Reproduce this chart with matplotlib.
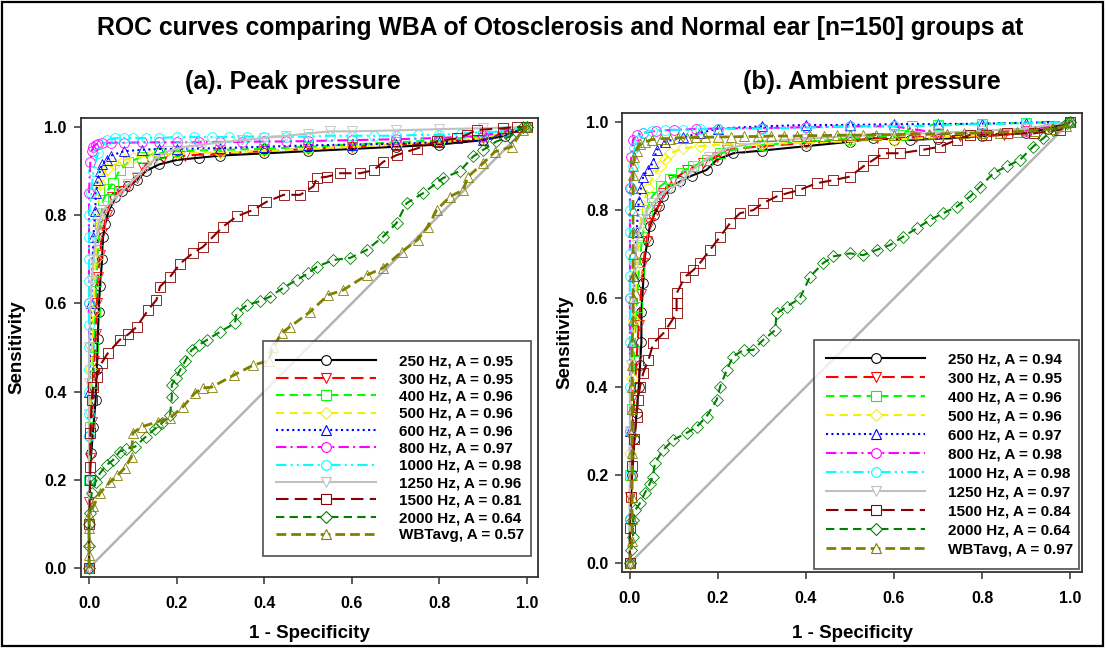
import numpy as np
import matplotlib
matplotlib.use('Agg')
import matplotlib.pyplot as plt
from matplotlib.lines import Line2D
from matplotlib.patches import Rectangle

plt.rcParams['font.family'] = ['Liberation Sans', 'DejaVu Sans']
plt.rcParams['font.weight'] = 'bold'

#################################################################################
# data : (1 - specificity, sensitivity)
#################################################################################
labels = ['250 Hz', '300 Hz', '400 Hz', '500 Hz', '600 Hz', '800 Hz',
          '1000 Hz', '1250 Hz', '1500 Hz', '2000 Hz', 'WBTavg']
auc_peak    = [0.95, 0.95, 0.96, 0.96, 0.96, 0.97, 0.98, 0.96, 0.81, 0.64, 0.57]
auc_ambient = [0.94, 0.95, 0.96, 0.96, 0.97, 0.98, 0.98, 0.97, 0.84, 0.64, 0.97]

# (a) peak pressure
peak_250 = [(0, 0), (0, 0.1), (0, 0.2), (0.005, 0.26), (0.01, 0.32), (0.015, 0.38), (0.018, 0.45),
            (0.02, 0.52), (0.022, 0.58), (0.025, 0.64), (0.03, 0.7), (0.032, 0.75), (0.037, 0.78),
            (0.045, 0.81), (0.06, 0.84), (0.075, 0.855), (0.09, 0.865), (0.11, 0.88), (0.13, 0.9),
            (0.16, 0.915), (0.2, 0.925), (0.25, 0.93), (0.3, 0.935), (0.4, 0.94), (0.5, 0.945),
            (0.6, 0.95), (0.7, 0.955), (0.8, 0.96), (0.9, 0.97), (0.95, 0.98), (1.0, 1.0)]
peak_300 = [(0, 0), (0, 0.15), (0.003, 0.25), (0.006, 0.33), (0.01, 0.4), (0.012, 0.47), (0.015, 0.53),
            (0.018, 0.6), (0.02, 0.66), (0.025, 0.71), (0.03, 0.76), (0.04, 0.8), (0.052, 0.842),
            (0.07, 0.855), (0.09, 0.865), (0.11, 0.885), (0.124, 0.907), (0.139, 0.925), (0.17, 0.93),
            (0.22, 0.935), (0.3, 0.94), (0.4, 0.945), (0.5, 0.95), (0.6, 0.955), (0.7, 0.96),
            (0.8, 0.965), (0.9, 0.975), (0.95, 0.985), (1.0, 1.0)]
peak_400 = [(0, 0), (0, 0.2), (0.003, 0.32), (0.006, 0.42), (0.01, 0.5), (0.013, 0.58), (0.017, 0.65),
            (0.02, 0.72), (0.025, 0.78), (0.032, 0.834), (0.045, 0.86), (0.055, 0.873), (0.07, 0.902),
            (0.09, 0.92), (0.12, 0.932), (0.16, 0.94), (0.2, 0.945), (0.3, 0.948), (0.4, 0.95),
            (0.5, 0.955), (0.6, 0.96), (0.7, 0.965), (0.8, 0.97), (0.9, 0.98), (1.0, 1.0)]
peak_500 = [(0, 0), (0, 0.3), (0.005, 0.45), (0.01, 0.58), (0.015, 0.7), (0.02, 0.8), (0.025, 0.87),
            (0.03, 0.89), (0.04, 0.905), (0.06, 0.915), (0.08, 0.925), (0.1, 0.93), (0.14, 0.935),
            (0.2, 0.94), (0.3, 0.942), (0.4, 0.945), (0.5, 0.95), (0.6, 0.955), (0.7, 0.96),
            (0.8, 0.965), (0.9, 0.975), (1.0, 1.0)]
peak_600 = [(0, 0), (0, 0.4), (0.005, 0.6), (0.01, 0.75), (0.014, 0.81), (0.016, 0.85), (0.02, 0.88),
            (0.025, 0.9), (0.03, 0.915), (0.04, 0.925), (0.05, 0.935), (0.08, 0.945), (0.12, 0.948),
            (0.16, 0.95), (0.2, 0.95), (0.3, 0.952), (0.4, 0.955), (0.5, 0.958), (0.6, 0.96),
            (0.7, 0.962), (0.8, 0.965), (0.9, 0.97), (1.0, 1.0)]
peak_800 = [(0, 0), (0, 0.3), (0, 0.6), (0, 0.85), (0.003, 0.92), (0.006, 0.945), (0.01, 0.955),
            (0.015, 0.96), (0.02, 0.962), (0.03, 0.964), (0.05, 0.964), (0.08, 0.964), (0.12, 0.965),
            (0.16, 0.965), (0.2, 0.965), (0.25, 0.965), (0.3, 0.966), (0.35, 0.966), (0.4, 0.967),
            (0.45, 0.967), (0.5, 0.968), (0.6, 0.97), (0.7, 0.972), (0.8, 0.975), (0.9, 0.98), (1.0, 1.0)]
peak_1000 = [(0, 0), (0, 0.1), (0, 0.2), (0, 0.3), (0, 0.35), (0, 0.4), (0, 0.45), (0, 0.5), (0, 0.55),
             (0, 0.6), (0, 0.65), (0, 0.7), (0, 0.75), (0, 0.8), (0.005, 0.85), (0.01, 0.9), (0.02, 0.94),
             (0.04, 0.97), (0.06, 0.975), (0.08, 0.975), (0.1, 0.975), (0.13, 0.975), (0.16, 0.975),
             (0.2, 0.977), (0.24, 0.977), (0.28, 0.977), (0.32, 0.977), (0.36, 0.978), (0.4, 0.978),
             (0.45, 0.978), (0.5, 0.978), (0.55, 0.98), (0.6, 0.98), (0.65, 0.98), (0.7, 0.98),
             (0.75, 0.982), (0.8, 0.982), (0.85, 0.985), (0.9, 0.988), (0.95, 0.99), (1.0, 1.0)]
peak_1250 = [(0, 0), (0, 0.2), (0, 0.35), (0, 0.42), (0, 0.5), (0.003, 0.58), (0.006, 0.65), (0.01, 0.7),
             (0.015, 0.74), (0.02, 0.77), (0.025, 0.79), (0.029, 0.805), (0.04, 0.82), (0.055, 0.835),
             (0.07, 0.85), (0.09, 0.87), (0.109, 0.887), (0.13, 0.91), (0.154, 0.93), (0.18, 0.945),
             (0.22, 0.955), (0.26, 0.96), (0.3, 0.965), (0.35, 0.97), (0.4, 0.975), (0.45, 0.98),
             (0.5, 0.985), (0.55, 0.99), (0.6, 0.99), (0.7, 0.992), (0.8, 0.995), (0.9, 0.997), (1.0, 1.0)]
peak_1500 = [(0, 0), (0, 0.1), (0.003, 0.2), (0.003, 0.23), (0.003, 0.306), (0.006, 0.38), (0.01, 0.41),
             (0.018, 0.434), (0.029, 0.465), (0.043, 0.487), (0.07, 0.517), (0.09, 0.53), (0.109, 0.547),
             (0.135, 0.585), (0.154, 0.608), (0.162, 0.638), (0.185, 0.66), (0.208, 0.69), (0.237, 0.714),
             (0.26, 0.728), (0.283, 0.751), (0.306, 0.774), (0.337, 0.797), (0.375, 0.812), (0.405, 0.83),
             (0.444, 0.846), (0.482, 0.846), (0.512, 0.865), (0.52, 0.884), (0.543, 0.887), (0.573, 0.895),
             (0.619, 0.895), (0.65, 0.902), (0.672, 0.921), (0.702, 0.936), (0.748, 0.951), (0.794, 0.967),
             (0.84, 0.974), (0.862, 0.982), (0.885, 0.993), (0.946, 0.997), (0.977, 1.0), (1.0, 1.0)]
peak_2000 = [(0, 0), (0, 0.05), (0, 0.1), (0.003, 0.125), (0.006, 0.17), (0.015, 0.195), (0.025, 0.215),
             (0.04, 0.233), (0.055, 0.245), (0.07, 0.264), (0.085, 0.27), (0.105, 0.275), (0.13, 0.298),
             (0.15, 0.315), (0.166, 0.328), (0.185, 0.347), (0.189, 0.388), (0.189, 0.415), (0.198, 0.43),
             (0.208, 0.449), (0.22, 0.47), (0.234, 0.494), (0.25, 0.505), (0.269, 0.517), (0.3, 0.536),
             (0.333, 0.555), (0.337, 0.578), (0.36, 0.596), (0.39, 0.605), (0.413, 0.615), (0.443, 0.635),
             (0.474, 0.653), (0.5, 0.668), (0.52, 0.683), (0.557, 0.698), (0.596, 0.703), (0.634, 0.721),
             (0.671, 0.751), (0.702, 0.782), (0.725, 0.827), (0.763, 0.85), (0.794, 0.873), (0.808, 0.884),
             (0.847, 0.9), (0.877, 0.933), (0.9, 0.948), (0.93, 0.967), (0.961, 0.978), (0.99, 1.0), (1.0, 1.0)]
peak_wbt = [(0, 0), (0, 0.03), (0, 0.06), (0, 0.09), (0, 0.12), (0.01, 0.14), (0.025, 0.17), (0.048, 0.195),
            (0.065, 0.21), (0.082, 0.227), (0.097, 0.252), (0.1, 0.306), (0.12, 0.32), (0.158, 0.332),
            (0.185, 0.34), (0.215, 0.366), (0.242, 0.397), (0.26, 0.408), (0.28, 0.41), (0.33, 0.437),
            (0.375, 0.46), (0.41, 0.47), (0.42, 0.5), (0.44, 0.533), (0.459, 0.547), (0.505, 0.581),
            (0.546, 0.619), (0.58, 0.63), (0.634, 0.664), (0.671, 0.68), (0.714, 0.717), (0.75, 0.744),
            (0.774, 0.774), (0.794, 0.812), (0.824, 0.842), (0.854, 0.857), (0.865, 0.887), (0.9, 0.918),
            (0.927, 0.944), (0.965, 0.955), (0.99, 0.993), (1.0, 1.0)]

# (b) ambient pressure
amb_250 = [(0, 0), (0, 0.1), (0.005, 0.2), (0.01, 0.28), (0.015, 0.34), (0.02, 0.4), (0.023, 0.45),
           (0.026, 0.5), (0.026, 0.57), (0.03, 0.634), (0.034, 0.695), (0.04, 0.73), (0.045, 0.763),
           (0.055, 0.79), (0.065, 0.81), (0.076, 0.831), (0.09, 0.85), (0.114, 0.865), (0.14, 0.878),
           (0.174, 0.891), (0.197, 0.914), (0.235, 0.929), (0.3, 0.935), (0.4, 0.945), (0.5, 0.955),
           (0.553, 0.963), (0.6, 0.96), (0.636, 0.959), (0.7, 0.962), (0.8, 0.968), (0.9, 0.975),
           (0.95, 0.985), (1.0, 1.0)]
amb_300 = [(0, 0), (0, 0.15), (0.005, 0.28), (0.01, 0.38), (0.015, 0.46), (0.02, 0.54), (0.025, 0.61),
           (0.03, 0.68), (0.038, 0.73), (0.045, 0.77), (0.061, 0.8), (0.076, 0.838), (0.098, 0.868),
           (0.129, 0.891), (0.167, 0.906), (0.197, 0.921), (0.22, 0.937), (0.3, 0.945), (0.4, 0.952),
           (0.5, 0.958), (0.561, 0.963), (0.65, 0.965), (0.75, 0.967), (0.85, 0.97), (0.9, 0.98),
           (0.95, 0.99), (1.0, 1.0)]
amb_400 = [(0, 0), (0, 0.2), (0.005, 0.35), (0.01, 0.48), (0.015, 0.58), (0.02, 0.66), (0.028, 0.74),
           (0.038, 0.8), (0.05, 0.83), (0.07, 0.855), (0.09, 0.87), (0.115, 0.885), (0.144, 0.899),
           (0.174, 0.914), (0.205, 0.929), (0.25, 0.94), (0.3, 0.948), (0.4, 0.955), (0.5, 0.962),
           (0.62, 0.97), (0.64, 0.99), (0.7, 0.994), (0.8, 0.996), (0.9, 0.998), (1.0, 1.0)]
amb_500 = [(0, 0), (0, 0.25), (0.005, 0.42), (0.01, 0.55), (0.015, 0.66), (0.02, 0.75), (0.03, 0.81),
           (0.04, 0.85), (0.055, 0.88), (0.068, 0.899), (0.08, 0.915), (0.091, 0.929), (0.12, 0.94),
           (0.16, 0.945), (0.2, 0.948), (0.3, 0.95), (0.4, 0.953), (0.5, 0.956), (0.6, 0.96),
           (0.7, 0.965), (0.8, 0.97), (0.9, 0.98), (1.0, 1.0)]
amb_600 = [(0, 0), (0, 0.3), (0.005, 0.5), (0.01, 0.65), (0.015, 0.75), (0.02, 0.82), (0.025, 0.85),
           (0.03, 0.876), (0.04, 0.89), (0.052, 0.907), (0.061, 0.936), (0.08, 0.955), (0.12, 0.965),
           (0.16, 0.975), (0.2, 0.985), (0.3, 0.99), (0.4, 0.993), (0.5, 0.993), (0.6, 0.995),
           (0.7, 0.995), (0.8, 0.996), (0.9, 0.998), (1.0, 1.0)]
amb_800 = [(0, 0), (0, 0.3), (0, 0.6), (0, 0.85), (0.003, 0.92), (0.007, 0.96), (0.015, 0.97),
           (0.03, 0.975), (0.06, 0.98), (0.1, 0.982), (0.15, 0.984), (0.2, 0.985), (0.3, 0.986),
           (0.4, 0.988), (0.5, 0.99), (0.6, 0.99), (0.7, 0.975), (0.8, 0.975), (0.9, 0.98), (1.0, 1.0)]
amb_1000 = [(0, 0), (0, 0.1), (0, 0.2), (0, 0.3), (0, 0.4), (0, 0.5), (0, 0.6), (0, 0.65), (0, 0.7),
            (0, 0.75), (0, 0.8), (0.003, 0.85), (0.006, 0.9), (0.01, 0.94), (0.02, 0.96), (0.03, 0.975),
            (0.05, 0.98), (0.08, 0.982), (0.12, 0.982), (0.16, 0.983), (0.2, 0.985), (0.3, 0.985),
            (0.4, 0.987), (0.5, 0.99), (0.6, 0.99), (0.7, 0.992), (0.8, 0.995), (0.9, 0.997), (1.0, 1.0)]
amb_1250 = [(0, 0), (0, 0.3), (0.003, 0.45), (0.006, 0.58), (0.01, 0.67), (0.015, 0.72), (0.02, 0.75),
            (0.03, 0.78), (0.04, 0.8), (0.052, 0.816), (0.07, 0.835), (0.09, 0.85), (0.114, 0.861),
            (0.13, 0.88), (0.152, 0.899), (0.18, 0.92), (0.22, 0.94), (0.3, 0.955), (0.4, 0.962),
            (0.5, 0.968), (0.6, 0.972), (0.7, 0.975), (0.8, 0.98), (0.9, 0.985), (1.0, 1.0)]
amb_1500 = [(0, 0), (0, 0.08), (0.003, 0.15), (0.005, 0.22), (0.01, 0.28), (0.015, 0.33), (0.018, 0.37),
            (0.023, 0.4), (0.03, 0.43), (0.042, 0.46), (0.053, 0.498), (0.076, 0.521), (0.091, 0.543),
            (0.106, 0.566), (0.106, 0.589), (0.106, 0.611), (0.125, 0.649), (0.144, 0.664), (0.159, 0.68),
            (0.182, 0.71), (0.205, 0.74), (0.227, 0.77), (0.25, 0.793), (0.28, 0.8), (0.303, 0.816),
            (0.333, 0.831), (0.356, 0.838), (0.386, 0.846), (0.424, 0.861), (0.462, 0.868), (0.5, 0.876),
            (0.53, 0.899), (0.553, 0.914), (0.576, 0.929), (0.614, 0.929), (0.667, 0.937), (0.705, 0.944),
            (0.742, 0.959), (0.773, 0.971), (0.81, 0.971), (0.856, 0.974), (0.917, 0.974), (0.977, 0.982),
            (1.0, 1.0)]
amb_2000 = [(0, 0), (0.003, 0.03), (0.007, 0.06), (0.007, 0.098), (0.012, 0.12), (0.023, 0.136),
            (0.034, 0.159), (0.045, 0.18), (0.052, 0.196), (0.057, 0.227), (0.075, 0.256), (0.098, 0.279),
            (0.129, 0.295), (0.152, 0.309), (0.174, 0.332), (0.197, 0.37), (0.205, 0.4), (0.22, 0.438),
            (0.234, 0.468), (0.258, 0.483), (0.28, 0.483), (0.303, 0.506), (0.33, 0.528), (0.333, 0.566),
            (0.356, 0.581), (0.386, 0.6), (0.409, 0.649), (0.439, 0.68), (0.462, 0.695), (0.5, 0.702),
            (0.53, 0.698), (0.561, 0.71), (0.591, 0.721), (0.621, 0.74), (0.652, 0.759), (0.682, 0.778),
            (0.712, 0.793), (0.742, 0.808), (0.773, 0.831), (0.795, 0.853), (0.826, 0.884), (0.856, 0.899),
            (0.886, 0.914), (0.916, 0.944), (0.939, 0.963), (0.962, 0.982), (0.992, 0.997), (1.0, 1.0)]
amb_wbt = [(0, 0), (0.005, 0.05), (0.005, 0.1), (0.005, 0.15), (0.005, 0.2), (0.005, 0.25), (0.005, 0.3),
           (0.005, 0.35), (0.005, 0.4), (0.005, 0.45), (0.005, 0.5), (0.007, 0.55), (0.007, 0.6),
           (0.007, 0.65), (0.007, 0.7), (0.007, 0.75), (0.007, 0.8), (0.007, 0.85), (0.007, 0.88),
           (0.007, 0.9), (0.01, 0.92), (0.015, 0.935), (0.023, 0.95), (0.035, 0.955), (0.05, 0.96),
           (0.07, 0.962), (0.09, 0.962), (0.11, 0.964), (0.13, 0.964), (0.15, 0.965), (0.17, 0.965),
           (0.2, 0.966), (0.23, 0.966), (0.26, 0.967), (0.29, 0.967), (0.32, 0.968), (0.35, 0.968),
           (0.38, 0.968), (0.41, 0.969), (0.44, 0.969), (0.47, 0.97), (0.5, 0.97), (0.53, 0.97),
           (0.56, 0.971), (0.6, 0.971), (0.64, 0.972), (0.68, 0.972), (0.72, 0.973), (0.76, 0.974),
           (0.8, 0.975), (0.84, 0.976), (0.88, 0.978), (0.92, 0.98), (0.96, 0.985), (0.99, 0.99), (1.0, 1.0)]

peak_curves = [peak_250, peak_300, peak_400, peak_500, peak_600, peak_800,
               peak_1000, peak_1250, peak_1500, peak_2000, peak_wbt]
amb_curves = [amb_250, amb_300, amb_400, amb_500, amb_600, amb_800,
              amb_1000, amb_1250, amb_1500, amb_2000, amb_wbt]

#################################################################################
# style of each series (SigmaPlot like)
#################################################################################
colors  = ['black', '#ff0000', '#00ff00', '#f2f200', '#0000ff', '#ff00ff',
           '#00ffff', '#c0c0c0', '#8b0000', '#008000', '#808000']
markers = ['o', 'v', 's', 'D', '^', 'o', 'o', 'v', 's', 'D', '^']
styles  = ['-', (0, (6, 3)), (0, (4, 2.5)), (0, (4, 2.5)), (0, (1, 1.6)), (0, (5, 2, 1, 2)),
           (0, (5, 2, 1, 2, 1, 2)), '-', (0, (6, 3)), (0, (4, 2.5)), (0, (3.5, 1.8))]
widths  = [1.5, 1.5, 1.5, 1.5, 1.5, 1.5, 1.5, 1.5, 1.5, 1.5, 2.0]
msizes  = [7, 7, 7, 6, 7, 7, 7, 7, 7.5, 6.5, 7.5]


def draw_panel(ax, curves, aucs, xlim, leg_anchor, leg_spacing, leg_pad):
	ax.plot([0, 1], [0, 1], color='#b4b4b4', lw=1.8, zorder=1)
	for i, pts in enumerate(curves):
		xy = np.array(pts)
		ax.plot(xy[:, 0], xy[:, 1], color=colors[i], ls=styles[i], lw=widths[i],
				marker=markers[i], ms=msizes[i], mfc='none', mec=colors[i], mew=0.6,
				zorder=2 + i)
	ax.set_xlim(*xlim)
	ax.set_ylim(-0.0204, 1.0202)
	ticks = [0.0, 0.2, 0.4, 0.6, 0.8, 1.0]
	ax.set_xticks(ticks)
	ax.set_yticks(ticks)
	ax.set_xticklabels(['%.1f' % t for t in ticks], fontsize=11.5, fontweight='bold')
	ax.set_yticklabels(['%.1f' % t for t in ticks], fontsize=11.5, fontweight='bold')
	ax.tick_params(direction='out', length=5, width=1.1, color='#333333')
	ax.tick_params(axis='x', pad=9)
	ax.tick_params(axis='y', pad=5)
	for s in ax.spines.values():
		s.set_linewidth(1.3)
		s.set_color('#333333')
	ax.set_xlabel('1 - Specificity', fontsize=13.5, fontweight='bold')
	ax.set_ylabel('Sensitivity', fontsize=13.5, fontweight='bold')

	handles = []
	for i in range(len(labels)):
		handles.append(Line2D([], [], color=colors[i], ls=styles[i], lw=widths[i], marker=markers[i],
							  ms=msizes[i], mfc='white', mec=colors[i], mew=0.8))
	texts = ['%s, A = %.2f' % (labels[i], aucs[i]) for i in range(len(labels))]
	leg = ax.legend(handles, texts, loc='upper left', bbox_to_anchor=leg_anchor,
					mode='expand', borderaxespad=0, numpoints=1, fancybox=False,
					handlelength=6.5, handletextpad=1.5, labelspacing=leg_spacing,
					borderpad=leg_pad, prop={'weight': 'bold', 'size': 11})
	leg.get_frame().set_edgecolor('#333333')
	leg.get_frame().set_linewidth(1.3)
	leg.set_zorder(20)


fig = plt.figure(figsize=(11.07, 6.48), dpi=100)
ax1 = fig.add_axes([0.0729, 0.1096, 0.4131, 0.7083])
ax2 = fig.add_axes([0.5619, 0.1173, 0.4155, 0.7083])

# bbox = (x0, y0, width, height) in axes fraction, legend hangs from its top
draw_panel(ax1, peak_curves, auc_peak, (-0.019, 1.025), (0.398, 0.046, 0.587, 0.468), 0.22, 0.9)
draw_panel(ax2, amb_curves, auc_ambient, (-0.018, 1.027), (0.417, 0.015, 0.576, 0.49), 0.33, 0.8)

ax1.xaxis.set_label_coords(0.5, -0.105)
ax2.xaxis.set_label_coords(0.5, -0.115)
ax1.yaxis.set_label_coords(-0.12, 0.5)
ax2.yaxis.set_label_coords(-0.105, 0.5)

fig.text(0.506, 0.957, 'ROC curves comparing WBA of Otosclerosis and Normal ear [n=150] groups at',
		 ha='center', va='center', fontsize=17.8, fontweight='bold')
fig.text(0.265, 0.873, '(a). Peak pressure', ha='center', va='center', fontsize=18, fontweight='bold')
fig.text(0.788, 0.873, '(b). Ambient pressure', ha='center', va='center', fontsize=18, fontweight='bold')

fig.patches.append(Rectangle((0.002, 0.003), 0.994, 0.994, transform=fig.transFigure,
							 fill=False, edgecolor='black', lw=1.6))

fig.savefig('out.png', dpi=100)
